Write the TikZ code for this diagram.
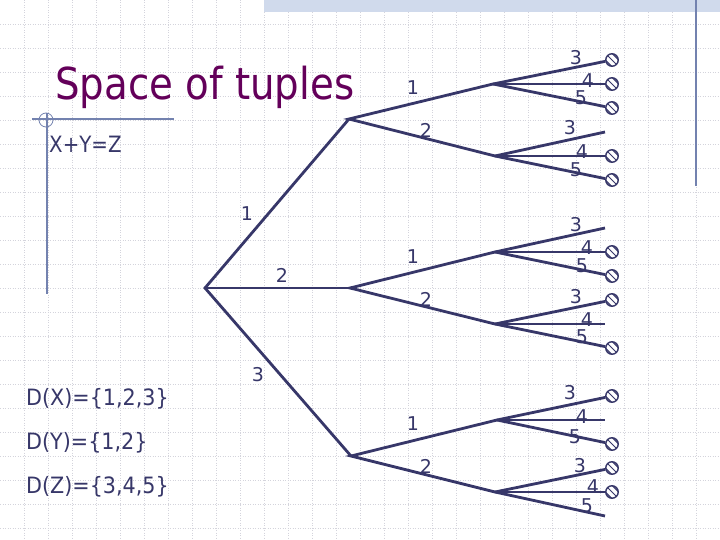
\documentclass[tikz,border=0pt]{standalone}
\usepackage{fontspec}
\setmainfont{DejaVu Sans}
\usetikzlibrary{calc}
\definecolor{ink}{RGB}{55,55,105}
\definecolor{ttl}{RGB}{100,0,90}
\definecolor{gridc}{RGB}{212,212,220}
\definecolor{band}{RGB}{208,218,236}
\definecolor{rulec}{RGB}{115,130,175}
\newcommand{\tz}[1]{\scalebox{0.88}[1]{#1}}
\begin{document}
\begin{tikzpicture}[x=1pt,y=-1pt,
  branch/.style={draw=ink,line width=2.8pt},
  thinfour/.style={draw=ink,line width=1.5pt},
  lab/.style={text=ink,font=\fontsize{19}{19}\selectfont,inner sep=0pt},
  side/.style={text=ink,font=\fontsize{22.5}{24}\selectfont,inner sep=0pt,anchor=base west},
  stop/.style={circle,draw=ink,line width=1.4pt,minimum size=12.5pt,inner sep=0pt,fill=white,
    path picture={\foreach \o in {-3.3,0,3.3}{\draw[ink,line width=1pt] ([shift={({-8pt+\o pt},{8pt+\o pt})}]path picture bounding box.center) -- ++(16pt,-16pt);}}}
]
\fill[white] (0,0) rectangle (720,540);
\useasboundingbox (0,0) rectangle (720,540);
% grid
\foreach \k in {1,...,29} \draw[gridc,line width=0.7pt,dash pattern=on 0.7pt off 1.8pt] (24*\k,0) -- (24*\k,540);
\foreach \k in {1,...,22} \draw[gridc,line width=0.7pt,dash pattern=on 0.7pt off 1.8pt] (0,24*\k) -- (720,24*\k);
% band and rules
\fill[band] (264,0) rectangle (720,12);
\draw[rulec,line width=1.8pt] (696,0) -- (696,186);
\draw[rulec,line width=1.2pt] (32,119) -- (174,119);
\draw[rulec,line width=1.8pt] (47,113) -- (47,294);
\draw[rulec,line width=0.8pt] (46,120) circle (7);
% texts
\node[text=ttl,font=\fontsize{44}{44}\selectfont,inner sep=0pt,anchor=base west] (title) at (55,100) {\tz{Space of tuples}};
\node[side] (eq) at (49,153) {\tz{X+Y=Z}};
\node[side] (dx) at (26,405) {\scalebox{0.92}[1]{D(X)=\{1,2,3\}}};
\node[side] (dy) at (26,449) {\scalebox{0.92}[1]{D(Y)=\{1,2\}}};
\node[side] (dz) at (26,493) {\scalebox{0.92}[1]{D(Z)=\{3,4,5\}}};
% tree vertices
\coordinate (r) at (205,288);
\coordinate (a) at (349,119);
\coordinate (b) at (350,288);
\coordinate (c) at (351,456);
\coordinate (a1) at (493,84);
\coordinate (a2) at (495,156);
\coordinate (b1) at (495,252);
\coordinate (b2) at (495,324);
\coordinate (c1) at (497,420);
\coordinate (c2) at (495,492);
% leaves
\node[stop] (a1t) at (612,60) {};
\node[stop] (a1f) at (612,84) {};
\node[stop] (a1v) at (612,108) {};
\coordinate (a2t) at (605,132);
\node[stop] (a2f) at (612,156) {};
\node[stop] (a2v) at (612,180) {};
\coordinate (b1t) at (605,228);
\node[stop] (b1f) at (612,252) {};
\node[stop] (b1v) at (612,276) {};
\node[stop] (b2t) at (612,300) {};
\coordinate (b2f) at (605,324);
\node[stop] (b2v) at (612,348) {};
\node[stop] (c1t) at (612,396) {};
\coordinate (c1f) at (605,420);
\node[stop] (c1v) at (612,444) {};
\node[stop] (c2t) at (612,468) {};
\node[stop] (c2f) at (612,492) {};
\coordinate (c2v) at (605,516);
% branches
\draw[branch] (a) -- (r) -- (c);
\draw[branch] (r) -- (b);
\draw[branch] (a1) -- (a) -- (a2);
\draw[branch] (b1) -- (b) -- (b2);
\draw[branch] (c1) -- (c) -- (c2);
\foreach \s in {a1,a2,b1,b2,c1,c2}{
  \draw[branch] (\s) -- (\s t);
  \draw[thinfour] (\s) -- (\s f);
  \draw[branch] (\s) -- (\s v);
}
% edge labels
\node[lab] (l1) at (247,214) {1};
\node[lab] (l2) at (282,275) {2};
\node[lab] (l3) at (258,375) {3};
\node[lab] (la1) at (413,88) {1};
\node[lab] (la2) at (426,130) {2};
\node[lab] (lb1) at (413,257) {1};
\node[lab] (lb2) at (426,299) {2};
\node[lab] (lc1) at (413,424) {1};
\node[lab] (lc2) at (426,466) {2};
\node[lab] (a1t3) at (576,58) {3};
\node[lab] (a1f4) at (588,81) {4};
\node[lab] (a1v5) at (581,98) {5};
\node[lab] (a2t3) at (570,128) {3};
\node[lab] (a2f4) at (582,152) {4};
\node[lab] (a2v5) at (576,170) {5};
\node[lab] (b1t3) at (576,225) {3};
\node[lab] (b1f4) at (587,248) {4};
\node[lab] (b1v5) at (582,266) {5};
\node[lab] (b2t3) at (576,297) {3};
\node[lab] (b2f4) at (587,320) {4};
\node[lab] (b2v5) at (582,337) {5};
\node[lab] (c1t3) at (570,393) {3};
\node[lab] (c1f4) at (582,417) {4};
\node[lab] (c1v5) at (575,437) {5};
\node[lab] (c2t3) at (580,466) {3};
\node[lab] (c2f4) at (593,487) {4};
\node[lab] (c2v5) at (587,506) {5};
\end{tikzpicture}
\end{document}
